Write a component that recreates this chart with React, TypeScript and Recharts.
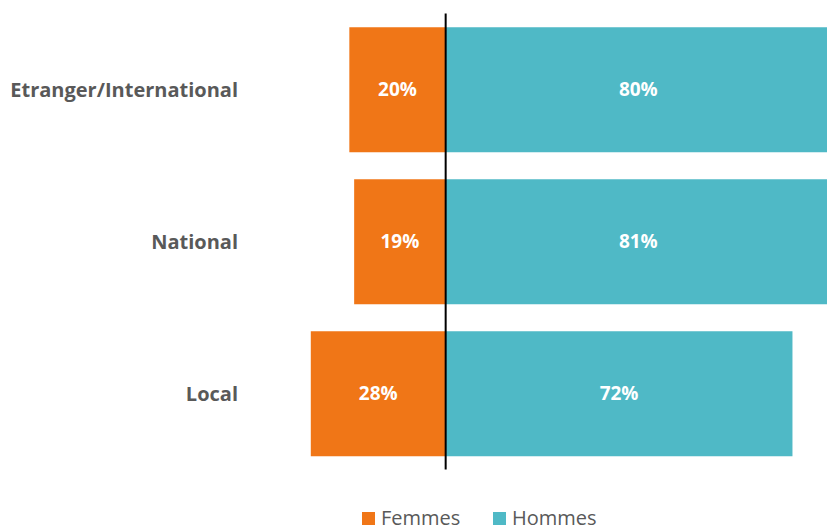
import React from 'react'
import {
  BarChart,
  Bar,
  XAxis,
  YAxis,
  ReferenceLine,
  LabelList
} from 'recharts'

const categories = ['Etranger/International', 'National', 'Local']
const femmes = [20, 19, 28]
const hommes = [80, 81, 72]
const seriesNames = ['Femmes', 'Hommes']
const seriesColors = ['#F07617', '#4FB9C6']

const FONT = '"Open Sans", sans-serif'

// femmes go to the left of the axis, so store them negative
const chartData = categories.map((name, i) => ({
  name,
  femmes: -femmes[i],
  hommes: hommes[i]
}))

const formatPct = (value: number) => `${Math.abs(value)}%`

const CustomLegend = () => (
  <div
    style={{
      position: 'absolute',
      left: 362,
      top: 508,
      display: 'flex',
      alignItems: 'center',
      fontFamily: FONT,
      fontSize: 20,
      lineHeight: '20px',
      color: '#595959',
      whiteSpace: 'nowrap'
    }}
  >
    {seriesNames.map((name, i) => (
      <div key={name} style={{ display: 'flex', alignItems: 'center', minWidth: 131 }}>
        <span
          style={{
            display: 'inline-block',
            width: 13,
            height: 13,
            background: seriesColors[i],
            marginRight: 6
          }}
        />
        <span>{name}</span>
      </div>
    ))}
  </div>
)

const App: React.FC = () => {
  // pinned to the page corner so the body margin does not push it into a scrollbar
  return (
    <div style={{ position: 'absolute', left: 0, top: 0, width: 827, height: 530 }}>
      <BarChart
        width={827}
        height={530}
        data={chartData}
        layout="vertical"
        stackOffset="sign"
        barCategoryGap="9%"
        margin={{ top: 13.5, right: -4, left: 0, bottom: 60.5 }}
      >
        <XAxis type="number" hide domain={[-40, 80]} allowDataOverflow />
        <YAxis
          type="category"
          dataKey="name"
          width={253}
          axisLine={false}
          tickLine={false}
          tickMargin={9}
          tick={{ fill: '#595959', fontSize: 20, fontWeight: 700, fontFamily: FONT }}
        />
        <Bar
          dataKey="femmes"
          name={seriesNames[0]}
          stackId="a"
          fill={seriesColors[0]}
          isAnimationActive={false}
        >
          <LabelList
            dataKey="femmes"
            position="center"
            formatter={(v: any) => formatPct(Number(v))}
            fill="#ffffff"
            style={{ fontSize: 19, fontWeight: 700, fontFamily: FONT }}
          />
        </Bar>
        <Bar
          dataKey="hommes"
          name={seriesNames[1]}
          stackId="a"
          fill={seriesColors[1]}
          isAnimationActive={false}
        >
          <LabelList
            dataKey="hommes"
            position="center"
            formatter={(v: any) => formatPct(Number(v))}
            fill="#ffffff"
            style={{ fontSize: 19, fontWeight: 700, fontFamily: FONT }}
          />
        </Bar>
        <ReferenceLine x={0} stroke="#000000" strokeWidth={2} />
      </BarChart>
      <CustomLegend />
    </div>
  )
}

export default App
